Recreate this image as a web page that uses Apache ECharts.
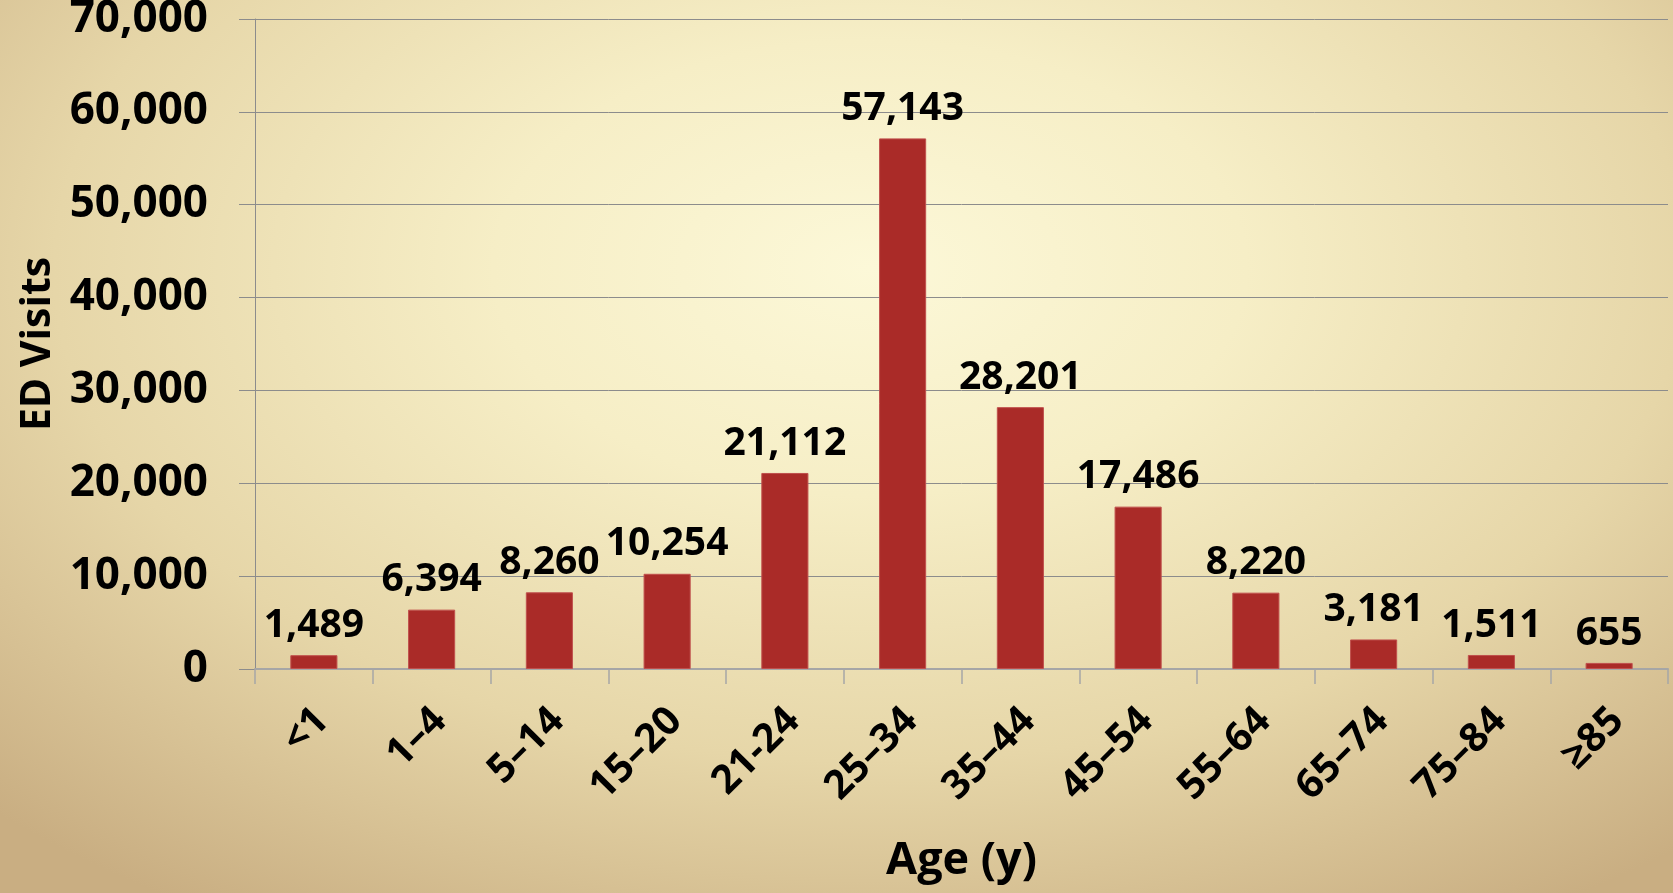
<!DOCTYPE html>
<html>
<head>
<meta charset="utf-8">
<script src="https://cdn.jsdelivr.net/npm/echarts@6/dist/echarts.min.js"></script>
<style>
html,body{margin:0;padding:0;width:1673px;height:893px;overflow:hidden;}
body{background:radial-gradient(ellipse 75% 85% at 52% 30%, #fcf8d8 0%, #f6eec6 30%, #e6d6a8 65%, #c9ae82 100%);}
#chart{width:1673px;height:893px;}
</style>
</head>
<body>
<div id="chart"></div>
<script>
const categories = ["<1","1–4","5–14","15–20","21-24","25–34","35–44","45–54","55–64","65–74","75–84","≥85"];
const visits = [1489, 6394, 8260, 10254, 21112, 57143, 28201, 17486, 8220, 3181, 1511, 655];
const yTicks = {min: 0, max: 70000, interval: 10000};

const FONT = '"Open Sans", "Noto Sans", sans-serif';
const chart = echarts.init(document.getElementById('chart'), null, {renderer: 'canvas'});
chart.setOption({
  backgroundColor: 'transparent',
  animation: false,
  grid: {left: 255, right: 5, top: 19, bottom: 224, containLabel: false, outerBoundsMode: 'none'},
  xAxis: {
    type: 'category',
    data: categories,
    name: 'Age (y)',
    nameLocation: 'middle',
    nameGap: 170,
    nameTextStyle: {fontFamily: FONT, fontWeight: 'bold', fontSize: 45, color: '#000'},
    axisLine: {show: true, lineStyle: {color: '#a6a6a6', width: 2}},
    axisTick: {show: true, alignWithLabel: false, length: 15, lineStyle: {color: '#a6a6a6', width: 1.5}},
    axisLabel: {rotate: 45, margin: 54, padding: [0, -12, 0, 0], fontFamily: FONT, fontWeight: 'bold', fontSize: 40, color: '#000', interval: 0}
  },
  yAxis: {
    type: 'value',
    min: yTicks.min, max: yTicks.max, interval: yTicks.interval,
    name: 'ED Visits',
    nameLocation: 'middle',
    nameGap: 196,
    nameTextStyle: {fontFamily: FONT, fontWeight: 'bold', fontSize: 41, color: '#000'},
    axisLine: {show: true, lineStyle: {color: '#8c8c8c', width: 1}},
    axisTick: {show: true, length: 16, lineStyle: {color: '#8c8c8c', width: 1}},
    splitLine: {show: true, lineStyle: {color: '#8c8c8c', width: 1}},
    axisLabel: {
      margin: 47, fontFamily: FONT, fontWeight: 'bold', fontSize: 44, color: '#000',
      formatter: v => v.toLocaleString('en-US')
    }
  },
  series: [{
    type: 'bar',
    data: visits,
    barCategoryGap: '60%',
    itemStyle: {color: '#aa2b28', borderColor: '#c0504d', borderWidth: 1},
    label: {
      show: true, position: 'top', distance: 10,
      fontFamily: FONT, fontWeight: 'bold', fontSize: 39, color: '#000',
      formatter: p => p.value.toLocaleString('en-US')
    }
  }]
});
</script>
</body>
</html>
